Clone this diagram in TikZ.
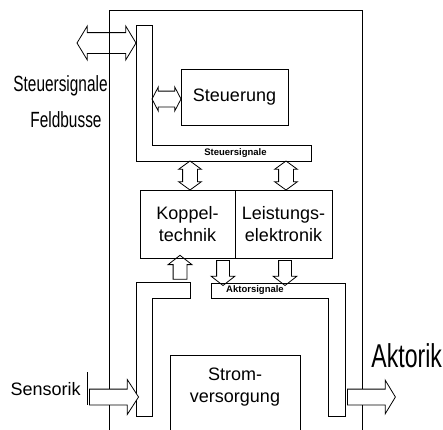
\documentclass[tikz,border=0pt]{standalone}
\usepackage{fontspec}
\setmainfont{Liberation Sans}
\newfontfamily\narrowfont[FakeStretch=0.70]{Liberation Sans}
\usetikzlibrary{shapes.arrows}
\tikzset{
    blockbox/.style={
        draw,
        rectangle,
        inner sep=0pt,
        align=center,
        font=\fontsize{18}{22}\selectfont
    },
    boxtext/.style={
        inner sep=0pt,
        align=center,
        font=\fontsize{18}{22}\selectfont
    },
    buslabel/.style={
        inner sep=0pt,
        font=\bfseries\fontsize{9.5}{10}\selectfont
    },
    sidelabel/.style={
        inner sep=0pt,
        font=\narrowfont\fontsize{22}{24}\selectfont
    },
    fatboth/.style n args={4}{
        double arrow,
        draw,
        inner xsep=0pt,
        inner ysep=#1,
        minimum width=0pt,
        double arrow head extend=#2,
        double arrow tip angle=#3,
        minimum height=#4
    },
    fatone/.style n args={4}{
        single arrow,
        draw,
        inner xsep=0pt,
        inner ysep=#1,
        minimum width=0pt,
        single arrow head extend=#2,
        single arrow tip angle=#3,
        minimum height=#4
    }
}

\begin{document}
\begin{tikzpicture}[x=1pt,y=-1pt,line width=0.8pt]
\clip (0,0) rectangle (443,429);

% ---------------------------------------------------------
% Outer frame (open at the bottom)
% ---------------------------------------------------------
\draw (109,440) -- (109,10) -- (362,10) -- (362,440);

% ---------------------------------------------------------
% Buses
% ---------------------------------------------------------
\draw (136,25) -- (152,25) -- (152,145) -- (311,145) -- (311,161)
    -- (136,161) -- cycle;
\node[buslabel] (steuerbus) at (235.5,153) {Steuersignale};

\draw (136,416) -- (136,282) -- (190,282) -- (190,298) -- (152,298)
    -- (152,416) -- cycle;

\draw (211,283) -- (345,283) -- (345,416) -- (328,416) -- (328,298)
    -- (211,298) -- cycle;
\node[buslabel] (aktorbus) at (255,290.5) {Aktorsignale};

% ---------------------------------------------------------
% Blocks
% ---------------------------------------------------------
\node[blockbox, minimum width=107pt, minimum height=56pt]
    (steuerung) at (234.5,97) {Steuerung};
\node[blockbox, minimum width=95pt, minimum height=68pt]
    (koppel) at (187.5,224) {Koppel-\\technik};
\node[blockbox, minimum width=97pt, minimum height=68pt]
    (leistung) at (283.5,224) {Leistungs-\\elektronik};
\node[blockbox, minimum width=130pt, minimum height=90pt, anchor=north]
    (strom) at (235,355) {};
\node[boxtext] (stromtext) at (235,387) {Strom-\\versorgung};

% ---------------------------------------------------------
% Block arrows
% ---------------------------------------------------------
\node[fatboth={10pt}{6.5pt}{117.6}{59pt}] (feldbusarrow) at (106.5,43) {};
\node[fatboth={7.5pt}{4pt}{124.9}{29pt}] (steuerarrow) at (166.5,99) {};

\foreach \x/\name in {190/koppelarrow, 286/leistungarrow}
{
    \node[fatboth={7pt}{4pt}{107.9}{29pt}, rotate=90] (\name) at (\x,175.5) {};
}

\node[fatone={6.5pt}{5pt}{103.9}{24pt}, rotate=90] (sensorup) at (180,270) {};
\foreach \x/\name in {223/koppeldown, 285/leistungdown}
{
    \node[fatone={6pt}{5.5pt}{103.9}{25pt}, rotate=-90] (\name) at (\x,270.5) {};
}

\node[fatone={7.5pt}{9.5pt}{114.2}{49pt}, fill=white] (sensorarrow) at (111.5,397) {};
\draw (87,372) -- (87,404.5);
\node[fatone={7.5pt}{9pt}{117.6}{48pt}, fill=white] (aktorarrow) at (369,397) {};

% ---------------------------------------------------------
% Outside labels
% ---------------------------------------------------------
\node[sidelabel, anchor=base east] (steuerlabel) at (108,91) {Steuersignale};
\node[sidelabel, anchor=base] (feldlabel) at (66,127) {Feldbusse};
\node[boxtext, anchor=base east] (sensorlabel) at (81,395) {Sensorik};
\node[inner sep=0pt, anchor=base west, font=\narrowfont\fontsize{33}{36}\selectfont]
    (aktorlabel) at (371,367) {Aktorik};

\end{tikzpicture}
\end{document}
